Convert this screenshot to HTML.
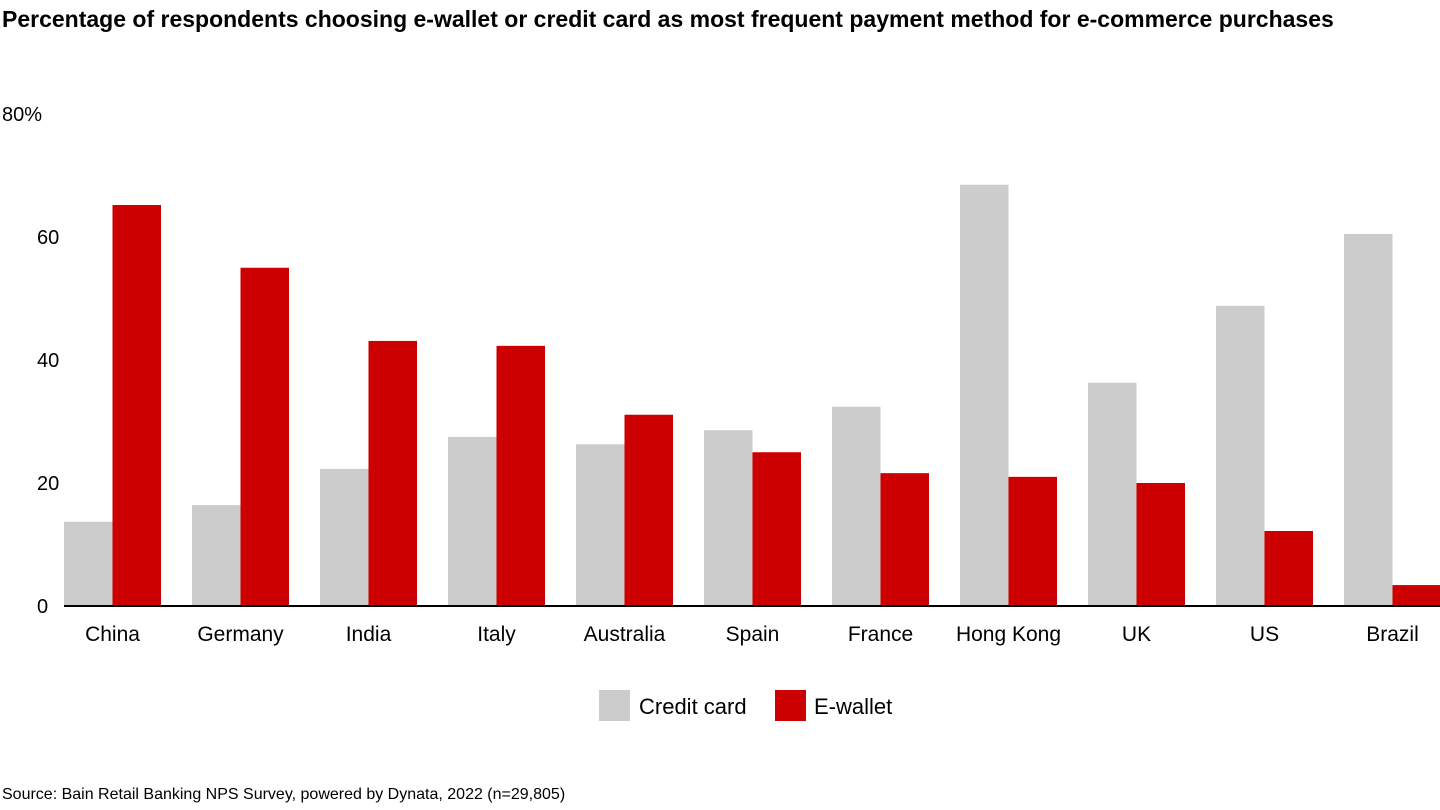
<!DOCTYPE html>
<html><head><meta charset="utf-8"><style>
body{margin:0;background:#fff;width:1440px;height:810px;overflow:hidden;font-family:"Liberation Sans",Arial,sans-serif}
#title{position:absolute;left:2px;top:2px;font-size:23px;font-weight:bold;line-height:34px;color:#000;width:1420px}
#source{position:absolute;left:2px;top:786px;font-size:16px;color:#000}
svg{position:absolute;left:0;top:0}
</style></head><body>
<div id="title">Percentage of respondents choosing e-wallet or credit card as most frequent payment method for e-commerce purchases</div>
<svg id="chart" width="1440" height="810"></svg>
<div id="source">Source: Bain Retail Banking NPS Survey, powered by Dynata, 2022 (n=29,805)</div>
<script>
const categories=["China","Germany","India","Italy","Australia","Spain","France","Hong Kong","UK","US","Brazil"];
const creditCard=[13.7,16.4,22.3,27.5,26.3,28.6,32.4,68.5,36.3,48.8,60.5];
const eWallet=[65.2,55,43.1,42.3,31.1,25,21.6,21,20,12.2,3.4];
const yTicks=[0,20,40,60,80];
const yTickLabels=["0","20","40","60","80%"];
const NS="http://www.w3.org/2000/svg";
const svg=document.getElementById('chart');
const y0=606,pxPer=6.15,x0=64,groupW=128,barW=48.5;
const y=v=>y0-v*pxPer;
const xg=i=>x0+i*groupW;
function mk(t,a){const e=document.createElementNS(NS,t);for(const k in a)e.setAttribute(k,a[k]);svg.appendChild(e);return e;}
yTicks.forEach((t,i)=>{
  const e=mk('text',{x:i===4?2:37,y:y(t)+7,'font-size':20,fill:'#000'});
  e.textContent=yTickLabels[i];
  
  
});
categories.forEach((c,i)=>{
  const r1=mk('rect',{x:xg(i),y:y(creditCard[i]),width:barW,height:creditCard[i]*pxPer,fill:'#cccccc'});
  
  
  const r2=mk('rect',{x:xg(i)+barW,y:y(eWallet[i]),width:barW,height:eWallet[i]*pxPer,fill:'#cc0000'});
  
  
  const t=mk('text',{x:xg(i)+barW,y:641,'font-size':21,'text-anchor':'middle',fill:'#000'});
  t.textContent=c;
  
  
});
const ax=mk('line',{x1:64,x2:1440,y1:y0,y2:y0,stroke:'#000','stroke-width':2});


const l1=mk('rect',{x:599,y:690,width:31,height:31,fill:'#cccccc'});


const lt1=mk('text',{x:639,y:714,'font-size':22,fill:'#000'});lt1.textContent='Credit card';


const l2=mk('rect',{x:775,y:690,width:31,height:31,fill:'#cc0000'});


const lt2=mk('text',{x:814,y:714,'font-size':22,fill:'#000'});lt2.textContent='E-wallet';


</script>
</body></html>
